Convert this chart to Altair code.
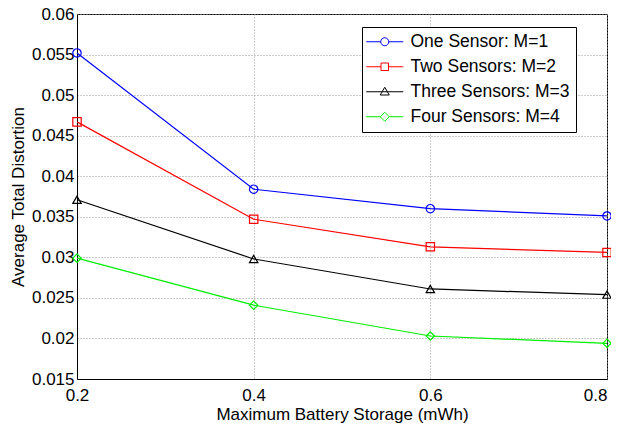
import altair as alt
import pandas as pd

storage = [0.2, 0.4, 0.6, 0.8]
series_names = ["One Sensor: M=1", "Two Sensors: M=2", "Three Sensors: M=3", "Four Sensors: M=4"]
one_sensor = [0.0552, 0.0384, 0.0360, 0.0351]
two_sensors = [0.0467, 0.0347, 0.0313, 0.0306]
three_sensors = [0.0371, 0.0298, 0.0261, 0.0254]
four_sensors = [0.0299, 0.0241, 0.0203, 0.0194]
colors = ["#0000ff", "#ff0000", "#000000", "#00ee00"]
shapes = ["circle", "square", "triangle-up", "diamond"]
y_ticks = [0.015, 0.02, 0.025, 0.03, 0.035, 0.04, 0.045, 0.05, 0.055, 0.06]
x_ticks = [0.2, 0.4, 0.6, 0.8]

rows = []
for name, vals in zip(series_names, [one_sensor, two_sensors, three_sensors, four_sensors]):
    for x, v in zip(storage, vals):
        rows.append({"storage": x, "distortion": v, "series": name})
df = pd.DataFrame(rows)

FONT = "Liberation Sans"

# legend glyphs: line segment with marker (units of 5px)
legend_paths = [
    "M-3.7,0H-0.8M0.8,0H3.7M0.8,0A0.8,0.8,0,1,1,-0.8,0A0.8,0.8,0,1,1,0.8,0",
    "M-3.7,0H-0.75M0.75,0H3.7M-0.75,-0.75H0.75V0.75H-0.75Z",
    "M-3.7,0H3.7M0,-0.9L0.9,0.65H-0.9Z",
    "M-3.7,0H-0.9M0.9,0H3.7M0,-0.9L0.9,0L0,0.9L-0.9,0Z",
]

x_enc = alt.X("storage:Q", scale=alt.Scale(domain=[0.2, 0.8], nice=False),
              axis=alt.Axis(values=x_ticks, title="Maximum Battery Storage (mWh)", format=".1f",
                            labelPadding=8, titlePadding=3, labelFlush=False,
                            labelAlign={"condition": {"test": "datum.value >= 0.79", "value": "right"},
                                        "value": "center"}))
y_enc = alt.Y("distortion:Q", scale=alt.Scale(domain=[0.015, 0.06], nice=False, zero=False),
              axis=alt.Axis(values=y_ticks, title="Average Total Distortion", format="~g",
                            labelPadding=3, titlePadding=4, labelFlush=False))
color_scale = alt.Scale(domain=series_names, range=colors)

leg = alt.Legend(title=None, orient="none", legendX=285, legendY=13,
                 symbolSize=100, symbolStrokeWidth=1, symbolOpacity=1,
                 symbolFillColor="transparent", symbolOffset=8,
                 labelFont=FONT, labelFontSize=17.5, labelColor="black",
                 labelOffset=17, rowPadding=6,
                 strokeColor="black", fillColor="white", padding=6)

lines = alt.Chart(df).mark_line(strokeWidth=1.2).encode(
    x=x_enc, y=y_enc, color=alt.Color("series:N", scale=color_scale, legend=None), detail="series:N")
points = alt.Chart(df).mark_point(filled=False, size=70, strokeWidth=1.2, opacity=1).encode(
    x=x_enc, y=y_enc, color=alt.Color("series:N", scale=color_scale, legend=None),
    shape=alt.Shape("series:N", scale=alt.Scale(domain=series_names, range=shapes), legend=None))
legend_layer = alt.Chart(df).mark_point(filled=False, opacity=0).encode(
    x=x_enc, y=y_enc, color=alt.Color("series:N", scale=color_scale, legend=leg),
    shape=alt.Shape("series:N", scale=alt.Scale(domain=series_names, range=legend_paths), legend=leg))

chart = alt.layer(lines, points, legend_layer).resolve_scale(
    shape="independent", color="independent").properties(
    width=530, height=365, autosize="none",
    padding={"left": 69, "top": 6, "right": 4, "bottom": 47},
).configure_view(stroke="black", strokeWidth=1).configure_axis(
    labelFont=FONT, labelFontSize=17, labelColor="black", titleFont=FONT, titleFontSize=17,
    titleColor="black", titleFontWeight="normal", domainColor="black", ticks=False,
    gridColor="#999999", gridDash=[1, 2], gridWidth=1,
)

chart.save("out.html", embed_options={"renderer": "svg", "actions": False})
